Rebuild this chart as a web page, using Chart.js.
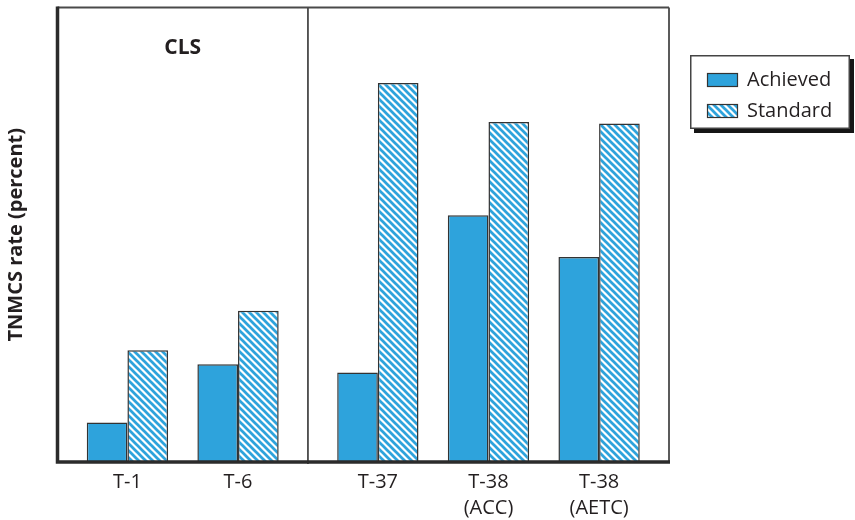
<!DOCTYPE html>
<html><head><meta charset="utf-8">
<script src="https://cdn.jsdelivr.net/npm/chart.js@4.4.1/dist/chart.umd.min.js"></script>
<style>html,body{margin:0;padding:0;background:#fff;}#wrap{width:855px;height:520px;}</style>
</head><body><div id="wrap"><canvas id="c" width="855" height="520"></canvas></div>
<script>
// ---- data ----
const categories = ['T-1', 'T-6', 'T-37', ['T-38', '(ACC)'], ['T-38', '(AETC)']];
const clsCount = 2;                 // first categories belong to the CLS panel
const panelLabel = 'CLS';
const seriesNames = ['Achieved', 'Standard'];
const achieved = [8.7, 21.5, 19.7, 54.3, 45.1];
const standard = [24.6, 33.3, 83.4, 74.8, 74.5];
const yTitle = 'TNMCS rate (percent)';

// ---- style ----
const FONT = "'Open Sans', 'Noto Sans', sans-serif";
const TEXT = '#231f20';
const BLUE = '#2ea3dc';
const EDGE = '#333333';
const PANEL_PAD = 0.632;   // empty space at each panel edge, in category widths

// category scale split into two panels (CLS | others)
class PanelScale extends Chart.CategoryScale {
  static id = 'panelCategory';
  _units(v) { return v + PANEL_PAD + (v > clsCount - 0.5 ? 2 * PANEL_PAD - 1 : 0); }
  _totalUnits() { return (this.getLabels().length - 2) + 4 * PANEL_PAD; }
  getPixelForValue(value) {
    if (typeof value !== 'number') value = this.parse(value);
    if (value === null || value === undefined) return NaN;
    return this.getPixelForDecimal(this._units(value) / this._totalUnits());
  }
  panelBreakPixel() {
    return this.getPixelForDecimal(((clsCount - 1) + 2 * PANEL_PAD) / this._totalUnits());
  }
}
Chart.register(PanelScale);

function makeHatch() {
  const s = 7;
  const c = document.createElement('canvas');
  c.width = s; c.height = s;
  const g = c.getContext('2d');
  g.fillStyle = '#ffffff'; g.fillRect(0, 0, s, s);
  g.strokeStyle = BLUE; g.lineWidth = 2.7; g.lineCap = 'square';
  for (const k of [-s, 0, s]) {
    g.beginPath(); g.moveTo(-2, -2 + k); g.lineTo(s + 2, s + 2 + k); g.stroke();
  }
  return g.createPattern(c, 'repeat');
}
const hatch = makeHatch();

const framePlugin = {
  id: 'frame',
  afterDatasetsDraw(chart) {
    const { ctx, chartArea: ca } = chart;
    const xs = chart.scales.x;
    const brk = xs.panelBreakPixel();
    ctx.save();
    ctx.strokeStyle = '#4a4a4a'; ctx.lineWidth = 1.8;
    ctx.beginPath();
    ctx.moveTo(ca.left, ca.top); ctx.lineTo(ca.right, ca.top);
    ctx.moveTo(ca.right, ca.top); ctx.lineTo(ca.right, ca.bottom);
    ctx.moveTo(brk, ca.top); ctx.lineTo(brk, ca.bottom + 2);
    ctx.stroke();
    ctx.strokeStyle = '#2b2b2b'; ctx.lineWidth = 3.5;
    ctx.beginPath();
    ctx.moveTo(ca.left, ca.top - 1); ctx.lineTo(ca.left, ca.bottom);
    ctx.moveTo(ca.left - 1.75, ca.bottom); ctx.lineTo(ca.right + 1, ca.bottom);
    ctx.stroke();
    ctx.fillStyle = TEXT;
    ctx.font = "bold 21px " + FONT;
    ctx.textAlign = 'center'; ctx.textBaseline = 'middle';
    ctx.fillText(panelLabel, (ca.left + brk) / 2, ca.top + 41);
    ctx.restore();
  }
};

const legendPlugin = {
  id: 'boxLegend',
  afterDraw(chart) {
    const { ctx, chartArea: ca } = chart;
    const ds = chart.data.datasets;
    const bx = ca.right + 21, by = 55, bw = 160, bh = 74;
    ctx.save();
    ctx.fillStyle = '#161616';
    ctx.fillRect(bx + 4, by + 4, bw, bh);
    ctx.fillStyle = '#ffffff';
    ctx.fillRect(bx, by, bw, bh);
    ctx.strokeStyle = '#444'; ctx.lineWidth = 1.5;
    ctx.strokeRect(bx + 0.75, by + 0.75, bw - 1.5, bh - 1.5);
    ctx.font = "20px " + FONT;
    ctx.textBaseline = 'middle'; ctx.textAlign = 'left';
    ds.forEach((d, i) => {
      const sy = by + 18 + i * 31;
      ctx.fillStyle = d.backgroundColor;
      ctx.fillRect(bx + 17, sy, 31, 14);
      ctx.strokeStyle = EDGE; ctx.lineWidth = 1.2;
      ctx.strokeRect(bx + 17.5, sy + 0.5, 30, 13);
      ctx.fillStyle = TEXT;
      ctx.fillText(d.label, bx + 57, sy + 7.5);
    });
    ctx.restore();
  }
};

const barStyle = { borderColor: EDGE, borderWidth: 1.5, categoryPercentage: 0.735, barPercentage: 1.0 };

new Chart(document.getElementById('c'), {
  type: 'bar',
  data: {
    labels: categories,
    datasets: [
      { label: seriesNames[0], data: achieved, backgroundColor: BLUE, ...barStyle },
      { label: seriesNames[1], data: standard, backgroundColor: hatch, ...barStyle }
    ]
  },
  options: {
    responsive: false, devicePixelRatio: 1, animation: false,
    layout: { padding: { top: 7.5, right: 186, left: 0, bottom: 0 } },
    plugins: { legend: { display: false }, tooltip: { enabled: false } },
    scales: {
      x: {
        type: 'panelCategory', position: 'bottom', offset: true,
        grid: { display: false, drawTicks: false }, border: { display: false },
        ticks: { font: { family: FONT, size: 20, lineHeight: 1.3 }, color: TEXT, padding: 7, maxRotation: 0, autoSkip: false },
        afterFit: s => { s.height = 58; }
      },
      y: {
        min: 0, max: 100,
        ticks: { display: false }, grid: { display: false, drawTicks: false }, border: { display: false },
        title: { display: true, text: yTitle, color: TEXT, font: { family: FONT, size: 20, weight: 'bold', lineHeight: 1.2 }, padding: { top: 4, bottom: 0 } },
        afterFit: s => { s.width = 57.5; }
      }
    }
  },
  plugins: [framePlugin, legendPlugin]
});
</script></body></html>
